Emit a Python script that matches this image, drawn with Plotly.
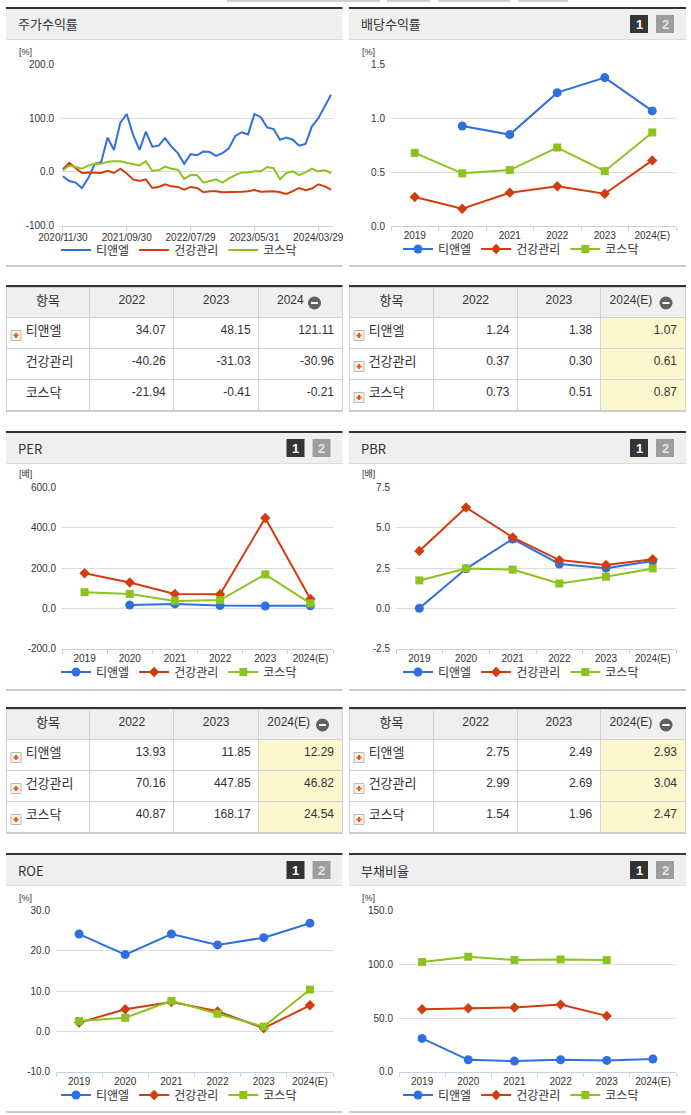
import pandas as pd
import plotly.graph_objects as go

# ==========================================
# 1. DATA
# ==========================================
SERIES = ["티앤엘", "건강관리", "코스닥"]
YEARS = ["2019", "2020", "2021", "2022", "2023", "2024(E)"]

# monthly stock-return chart (category labels = last business day of each month)
try:
    month_ends = pd.bdate_range("2020-11-01", "2024-05-31", freq="BME")
except ValueError:
    month_ends = pd.bdate_range("2020-11-01", "2024-05-31", freq="BM")
STOCK_DATES = [d.strftime("%Y/%m/%d") for d in month_ends]
TICK_DATES = ["2020/11/30", "2021/09/30", "2022/07/29", "2023/05/31", "2024/03/29"]

TNL_RET = [-8, -17, -20, -30, -11, 15, 18, 64, 41, 92, 108, 69, 41, 75, 47,
           49, 63, 47, 35, 15, 33, 31, 38, 37, 30, 35, 44, 67, 74, 70,
           108, 102, 83, 80, 60, 64, 60, 49, 52, 85, 100, 123, 144]
HEALTH_RET = [5, 17, 7, -2, -1, -2, -2, 2, -2, 6, -3, -14, -17, -14, -30,
              -28, -23, -27, -28, -33, -28, -30, -38, -36, -36, -38, -38, -38, -37, -36,
              -34, -37, -37, -36, -38, -41, -36, -30, -34, -31, -23, -27, -33]
KOSDAQ_RET = [3, 12, 9, 6, 12, 15, 15, 19, 20, 20, 17, 15, 12, 20, 2,
              3, 10, 6, 4, -13, -6, -6, -20, -17, -14, -20, -12, -6, -1, -1,
              1, 1, 9, 7, -14, -2, 1, -6, -1, 6, 1, 3, -2]

DIV_TNL = [None, 0.93, 0.85, 1.24, 1.38, 1.07]
DIV_HEALTH = [0.27, 0.16, 0.31, 0.37, 0.30, 0.61]
DIV_KOSDAQ = [0.68, 0.49, 0.52, 0.73, 0.51, 0.87]

PER_TNL = [None, 16, 22, 13.93, 11.85, 12.29]
PER_HEALTH = [174, 128, 71, 70.16, 447.85, 46.82]
PER_KOSDAQ = [80, 71, 37, 40.87, 168.17, 24.54]

PBR_TNL = [0.0, 2.45, 4.3, 2.75, 2.49, 2.93]
PBR_HEALTH = [3.55, 6.25, 4.4, 2.99, 2.69, 3.04]
PBR_KOSDAQ = [1.73, 2.47, 2.40, 1.54, 1.96, 2.47]

ROE_TNL = [24.2, 19.1, 24.2, 21.5, 23.3, 26.9]
ROE_HEALTH = [2.2, 5.5, 7.3, 5.0, 0.8, 6.5]
ROE_KOSDAQ = [2.6, 3.4, 7.6, 4.4, 1.2, 10.4]

DEBT_TNL = [31.0, 11.1, 9.9, 11.1, 10.5, 11.8]
DEBT_HEALTH = [58.2, 59.1, 59.8, 62.5, 52.0, None]
DEBT_KOSDAQ = [102.2, 107.1, 104.0, 104.6, 104.0, None]

# y tick values per chart
Y_RET = [-100, 0, 100, 200]
Y_DIV = [0.0, 0.5, 1.0, 1.5]
Y_PER = [-200, 0, 200, 400, 600]
Y_PBR = [-2.5, 0.0, 2.5, 5.0, 7.5]
Y_ROE = [-10, 0, 10, 20, 30]
Y_DEBT = [0, 50, 100, 150]

# tables
TBL_RET_HEAD = ["2022", "2023", "2024"]
TBL_RET_TNL = [34.07, 48.15, 121.11]
TBL_RET_HEALTH = [-40.26, -31.03, -30.96]
TBL_RET_KOSDAQ = [-21.94, -0.41, -0.21]

TBL_EST_HEAD = ["2022", "2023", "2024(E)"]
TBL_DIV_TNL = [1.24, 1.38, 1.07]
TBL_DIV_HEALTH = [0.37, 0.30, 0.61]
TBL_DIV_KOSDAQ = [0.73, 0.51, 0.87]

TBL_PER_TNL = [13.93, 11.85, 12.29]
TBL_PER_HEALTH = [70.16, 447.85, 46.82]
TBL_PER_KOSDAQ = [40.87, 168.17, 24.54]

TBL_PBR_TNL = [2.75, 2.49, 2.93]
TBL_PBR_HEALTH = [2.99, 2.69, 3.04]
TBL_PBR_KOSDAQ = [1.54, 1.96, 2.47]

# ==========================================
# 2. STYLE / GEOMETRY (pixels of the 691x1115 page)
# ==========================================
W, H = 691, 1115
KFONT = "Noto Sans CJK KR, sans-serif"
NFONT = "Liberation Sans Narrow, Arial Narrow, Liberation Sans, Noto Sans CJK KR, sans-serif"
BLUE, RED, GREEN = "#2f6fdf", "#d23d0d", "#8dc21f"
STYLE = {"티앤엘": (BLUE, "circle", 9),
         "건강관리": (RED, "diamond", 8),
         "코스닥": (GREEN, "square", 8)}
AXIS_BLUE = "#c5d2e2"
GRID = "#dcdcdc"
YELLOW = "#fdf7cf"


def fx(x):
    return x / W


def fy(y):
    return 1 - y / H


LEFT = (6, 342.5)
RIGHT = (349, 686)

fig = go.Figure()
shapes = []
annotations = []


def rect(x0, y0, x1, y1, fill, line=None):
    shapes.append(dict(type="rect", xref="paper", yref="paper",
                       x0=fx(x0), x1=fx(x1), y0=fy(y1), y1=fy(y0),
                       fillcolor=fill, line=dict(width=0) if line is None else line,
                       layer="above"))


def text(x, y, s, size=12, color="#333", family=KFONT, xanchor="left", bold=False):
    annotations.append(dict(x=fx(x), y=fy(y), xref="paper", yref="paper", text=f"<b>{s}</b>" if bold else s,
                            showarrow=False, xanchor=xanchor, yanchor="middle",
                            font=dict(family=family, size=size, color=color)))


# cut-off tab strip at very top
for a, b in [(227, 380), (387, 430), (438, 510), (518, 568)]:
    rect(a, 0, b, 2, "#cfcfcf")


def panel(side, top, title, boxes=True):
    x0, x1 = side
    rect(x0, top, x1, top + 2, "#333333")
    rect(x0, top + 2, x1, top + 32, "#efefef")
    rect(x0, top + 32, x1, top + 33, "#dddddd")
    rect(x0, top + 258, x1, top + 260, "#cccccc")
    text(x0 + 10, top + 17, title, size=13)
    if boxes:
        rect(x1 - 56, top + 8, x1 - 38, top + 26, "#333333")
        rect(x1 - 30, top + 8, x1 - 12, top + 26, "#9d9d9d")
        text(x1 - 47, top + 17.5, "1", size=13, color="white", family="Liberation Sans", xanchor="center", bold=True)
        text(x1 - 21, top + 17.5, "2", size=13, color="#e6e6e6", family="Liberation Sans", xanchor="center", bold=True)


TICK_FONT = dict(family=NFONT, size=10, color="#333")

charts = [
    dict(k="", side=LEFT, top=7, title="주가수익률", boxes=False, box=(60, 64.7, 333, 225.5),
         yt=Y_RET, unit="[%]", data=[TNL_RET, HEALTH_RET, KOSDAQ_RET], stock=True, lx=179, ly=250),
    dict(k="2", side=RIGHT, top=7, title="배당수익률", boxes=True, box=(391, 64.7, 676, 226),
         yt=Y_DIV, unit="[%]", data=[DIV_TNL, DIV_HEALTH, DIV_KOSDAQ], stock=False, lx=521, ly=249),
    dict(k="3", side=LEFT, top=431, title="PER", boxes=True, box=(62, 487.3, 333, 648.7),
         yt=Y_PER, unit="[배]", data=[PER_TNL, PER_HEALTH, PER_KOSDAQ], stock=False, lx=179, ly=672),
    dict(k="4", side=RIGHT, top=431, title="PBR", boxes=True, box=(396, 487.3, 676, 648.7),
         yt=Y_PBR, unit="[배]", data=[PBR_TNL, PBR_HEALTH, PBR_KOSDAQ], stock=False, lx=521, ly=672),
    dict(k="5", side=LEFT, top=853, title="ROE", boxes=True, box=(56, 910.7, 333, 1071.7),
         yt=Y_ROE, unit="[%]", data=[ROE_TNL, ROE_HEALTH, ROE_KOSDAQ], stock=False, lx=179, ly=1095),
    dict(k="6", side=RIGHT, top=853, title="부채비율", boxes=True, box=(399, 910.7, 676, 1071.7),
         yt=Y_DEBT, unit="[%]", data=[DEBT_TNL, DEBT_HEALTH, DEBT_KOSDAQ], stock=False, lx=521, ly=1095),
]

layout_axes = {}
for c in charts:
    k = c["k"]
    panel(c["side"], c["top"], c["title"], c["boxes"])
    bx0, by0, bx1, by1 = c["box"]
    text(c["side"][0] + 11, by0 - 13, c["unit"], size=9, family=NFONT)
    legend_name = "legend" + k
    for name, vals in zip(SERIES, c["data"]):
        color, symbol, size = STYLE[name]
        xs = STOCK_DATES if c["stock"] else YEARS
        fig.add_trace(go.Scatter(
            x=xs, y=vals, name=name, mode="lines" if c["stock"] else "lines+markers",
            line=dict(color=color, width=2),
            marker=dict(color=color, symbol=symbol, size=size, line=dict(width=0)),
            xaxis="x" + k, yaxis="y" + k, legend=legend_name, cliponaxis=False,
        ))
    yt = c["yt"]
    layout_axes["yaxis" + k] = dict(
        domain=[fy(by1), fy(by0)], anchor="x" + k, range=[yt[0], yt[-1]],
        tickmode="array", tickvals=yt, ticktext=[f"{v:.1f}" for v in yt],
        showgrid=True, gridcolor=GRID, gridwidth=1, zeroline=False, showline=False,
        ticks="", tickfont=TICK_FONT, ticklabelstandoff=5, fixedrange=True, automargin=False,
    )
    xa = dict(domain=[fx(bx0), fx(bx1)], anchor="y" + k, type="category", automargin=False,
              showgrid=False, zeroline=False, showline=True, linecolor=AXIS_BLUE, linewidth=1,
              ticks="outside", ticklen=4, tickcolor=AXIS_BLUE, tickfont=TICK_FONT, fixedrange=True)
    if c["stock"]:
        xa.update(categoryorder="array", categoryarray=STOCK_DATES, tickmode="array",
                  tickvals=TICK_DATES, ticktext=TICK_DATES, range=[-0.45, 42.3],
                  ticklabelstandoff=-2)
    else:
        xa.update(categoryorder="array", categoryarray=YEARS, tickson="boundaries", range=[-0.5, 5.5])
    layout_axes["xaxis" + k] = xa
    layout_axes[legend_name] = dict(
        orientation="h", x=fx(c["lx"]), y=fy(c["ly"]), xanchor="center", yanchor="middle",
        font=dict(family=KFONT, size=12, color="#333"), bgcolor="rgba(0,0,0,0)",
        itemwidth=30, tracegroupgap=0, itemclick=False, itemdoubleclick=False,
    )

# ==========================================
# 3. TABLES
# ==========================================
NB = "\u00a0"


def table(side, top, head, rows, highlight, icons, minus_x):
    x0, x1 = side
    if side == LEFT:
        cols = [6, 90, 174, 259, 342.5]
    else:
        cols = [349, 434, 518, 601, 686]
    widths = [cols[i + 1] - cols[i] for i in range(4)]
    hdr_top = top + 2
    names = [NB * 4 + n for n in SERIES]
    nums = [[f"{r[j]:.2f}" for r in rows] for j in range(3)]
    last_fill = [YELLOW] * 3 if highlight else ["white"] * 3
    head_vals = ["항목", head[0], head[1], head[2] + NB * (6 if head[2] == "2024" else 7)]
    fig.add_trace(go.Table(
        domain=dict(x=[fx(x0), fx(x1)], y=[fy(hdr_top + 30 + 31 * 3 + 1), fy(hdr_top)]),
        columnwidth=widths,
        header=dict(values=head_vals, height=30, align="center",
                    fill=dict(color="#efefef"), line=dict(color="#d2d2d2", width=1),
                    font=dict(family=[KFONT, NFONT, NFONT, NFONT], size=[13, 12, 12, 12], color="#333")),
        cells=dict(values=[names] + nums, height=31,
                   align=["left", "right", "right", "right"],
                   fill=dict(color=[["white"] * 3, ["white"] * 3, ["white"] * 3, last_fill]),
                   line=dict(color="#d2d2d2", width=1),
                   font=dict(family=[KFONT, NFONT, NFONT, NFONT], size=[13, 12, 12, 12], color="#333")),
    ))
    rect(x0, top, x1, top + 2, "#333333")
    rect(x0, hdr_top + 123, x1, hdr_top + 125, "#cccccc")
    # plus icons
    for i, show in enumerate(icons):
        if not show:
            continue
        cy = hdr_top + 30 + 15.5 + 31 * i + 3
        ix = x0 + 5
        rect(ix, cy - 5, ix + 10, cy + 5, "#f3f3f3", line=dict(color="#b9b9b9", width=1))
        rect(ix + 2.5, cy - 1, ix + 7.5, cy + 1, "#f05a0a")
        rect(ix + 4, cy - 2.5, ix + 6, cy + 2.5, "#f05a0a")
    # minus circle in the last header cell
    cy = hdr_top + 16
    shapes.append(dict(type="circle", xref="paper", yref="paper",
                       x0=fx(minus_x - 6.5), x1=fx(minus_x + 6.5), y0=fy(cy + 6.5), y1=fy(cy - 6.5),
                       fillcolor="#5f6166", line=dict(width=0), layer="above"))
    rect(minus_x - 3.5, cy - 1, minus_x + 3.5, cy + 1, "white")


table(LEFT, 285, TBL_RET_HEAD, [TBL_RET_TNL, TBL_RET_HEALTH, TBL_RET_KOSDAQ],
      highlight=False, icons=[True, False, False], minus_x=314.5)
table(RIGHT, 285, TBL_EST_HEAD, [TBL_DIV_TNL, TBL_DIV_HEALTH, TBL_DIV_KOSDAQ],
      highlight=True, icons=[True, True, True], minus_x=666)
table(LEFT, 707, TBL_EST_HEAD, [TBL_PER_TNL, TBL_PER_HEALTH, TBL_PER_KOSDAQ],
      highlight=True, icons=[True, True, True], minus_x=322.5)
table(RIGHT, 707, TBL_EST_HEAD, [TBL_PBR_TNL, TBL_PBR_HEALTH, TBL_PBR_KOSDAQ],
      highlight=True, icons=[True, True, True], minus_x=666)

fig.update_layout(
    width=W, height=H, margin=dict(l=0, r=0, t=0, b=0, pad=0, autoexpand=False),
    paper_bgcolor="white", plot_bgcolor="white",
    shapes=shapes, annotations=annotations,
    hovermode=False,
    **layout_axes,
)

# the page body has a default 8px margin; drop it so the figure sits at the window origin
fig.write_html("out.html", config={"displayModeBar": False},
               post_script="document.body.style.margin='0';document.body.style.overflow='hidden';")
